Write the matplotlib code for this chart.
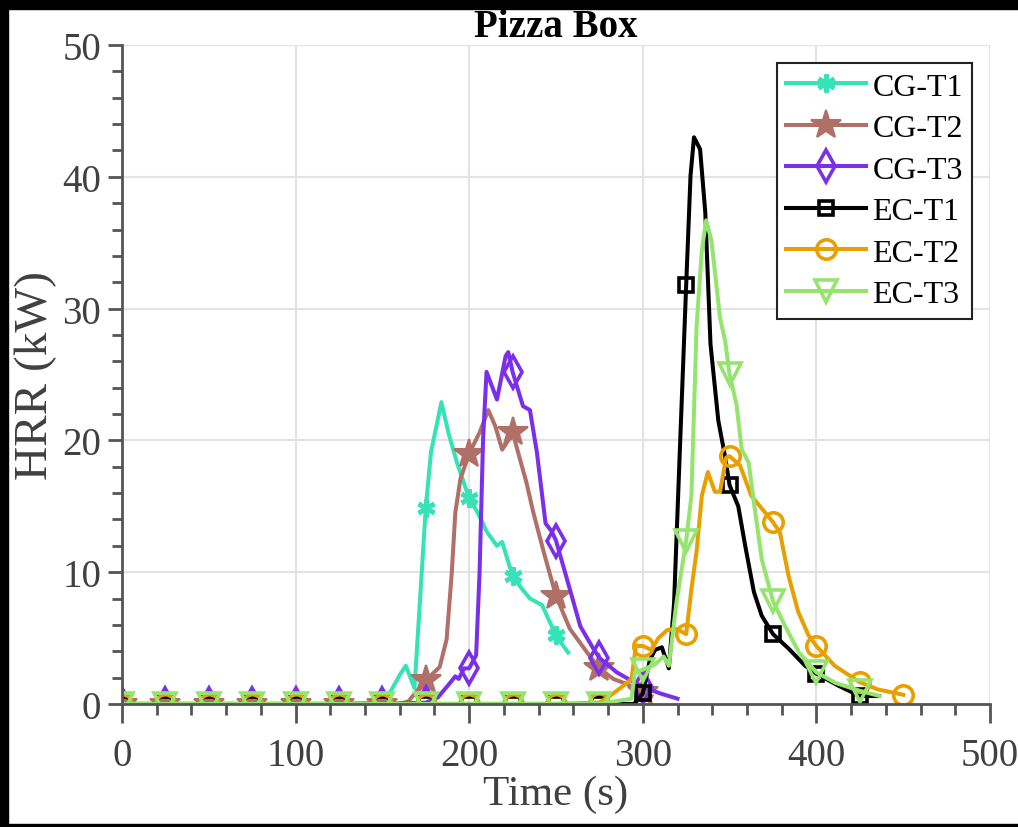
import matplotlib
matplotlib.use("Agg")
import matplotlib.pyplot as plt
from matplotlib.patches import Rectangle
from matplotlib.ticker import MultipleLocator

# HRR curves (time in s, HRR in kW)
cg_t1_time = [0, 25, 50, 75, 100, 125, 145, 150, 155, 160, 163.5, 168.5, 175, 178, 184, 188, 193,
              200, 205, 210, 216, 219, 225, 230, 235, 242, 250, 257]
cg_t1_hrr = [0, 0, 0, 0, 0, 0, 0.1, 0.4, 1.0, 2.2, 2.9, 1.2, 14.9, 19.1, 22.9, 20.6, 18.3,
             15.6, 14.5, 13.1, 12.0, 12.3, 9.7, 8.8, 8.0, 7.5, 5.2, 3.9]

cg_t2_time = [0, 25, 50, 75, 100, 125, 150, 160, 165, 170, 175, 183, 187, 190, 192, 195, 200,
              206, 211, 215, 219, 222, 225, 233, 237, 243, 250, 258, 268, 275, 283, 291, 300, 305]
cg_t2_hrr = [0, 0, 0, 0, 0, 0, 0, 0, 0.2, 1.0, 1.8, 2.8, 4.9, 10.0, 14.5, 17.1, 19.0,
             20.6, 22.3, 21.1, 19.3, 19.9, 20.6, 16.8, 14.5, 11.5, 8.2, 5.7, 3.9, 2.7, 1.9, 1.5, 0.9, 0.6]

cg_t3_time = [0, 25, 50, 75, 100, 125, 150, 175, 182, 189, 192, 194, 197, 200, 204, 206, 208, 210,
              216, 221, 222.5, 225, 231, 235, 239, 244, 247.5, 250, 258, 264, 271.5, 275, 285, 293,
              300, 310, 320]
cg_t3_hrr = [0, 0, 0, 0, 0, 0, 0, 0.1, 0.5, 1.6, 2.1, 1.9, 2.7, 2.7, 3.7, 10.0, 20.1, 25.2,
             23.1, 26.4, 26.7, 25.2, 22.6, 22.3, 19.1, 13.7, 13.1, 12.4, 8.7, 5.9, 4.2, 3.5, 2.4, 1.8,
             1.3, 0.8, 0.4]

ec_t1_time = [0, 25, 50, 75, 100, 125, 150, 175, 200, 225, 250, 275, 295, 300, 304, 307, 311, 315,
              318, 322, 325, 327.5, 329.5, 333, 336, 339, 343.5, 347.5, 350, 355, 359, 364, 368.5,
              375, 384, 393.5, 400, 412.5, 425, 436]
ec_t1_hrr = [0, 0, 0, 0, 0, 0, 0, 0, 0, 0, 0, 0, 0, 0.8, 3.3, 4.1, 4.3, 2.7,
             7.6, 21.5, 31.8, 40.1, 43.0, 42.1, 37.3, 27.3, 21.5, 18.7, 16.6, 15.0, 12.0, 8.5, 6.7,
             5.3, 4.2, 2.9, 2.3, 1.4, 0.6, 0.6]

ec_t2_time = [0, 25, 50, 75, 100, 125, 150, 175, 200, 225, 250, 275, 281, 288, 293.5, 296, 300,
              305, 309, 314, 319.5, 325, 328, 331, 334, 337.5, 341.5, 344.5, 348, 350, 356, 362.5,
              375, 379, 384, 389.5, 395.5, 400, 410.5, 425, 435.5, 450]
ec_t2_hrr = [0, 0, 0, 0, 0, 0, 0, 0, 0, 0, 0, 0.1, 0.6, 1.3, 1.9, 4.4, 4.4,
             4.1, 5.0, 5.6, 5.7, 5.3, 8.7, 11.6, 15.8, 17.6, 16.1, 16.1, 18.7, 18.8, 18.1, 15.8,
             13.8, 13.0, 9.7, 7.0, 5.2, 4.4, 2.9, 1.65, 1.1, 0.7]

ec_t3_time = [0, 25, 50, 75, 100, 125, 150, 175, 200, 225, 250, 275, 293.5, 295.5, 300, 307, 312,
              315, 319.5, 325, 328, 331, 334, 336.5, 339.5, 344.5, 347.5, 350, 354, 357, 361, 364,
              368.5, 375, 382, 390, 400, 411, 425, 436.5]
ec_t3_hrr = [0, 0, 0, 0, 0, 0, 0, 0, 0, 0, 0, 0, 0.4, 2.4, 2.6, 3.0, 3.6,
             2.9, 7.8, 12.4, 15.8, 28.7, 34.4, 36.7, 35.2, 29.3, 27.5, 25.0, 22.7, 19.3, 18.3, 15.3,
             11.0, 7.8, 5.9, 3.9, 2.4, 1.6, 1.0, 0.6]

plt.rcParams["font.family"] = ["Liberation Serif", "DejaVu Serif"]

series = [
    ("CG-T1", cg_t1_time, cg_t1_hrr, "#35E3B6", (6, 2, 0), 13, 3.2, True),
    ("CG-T2", cg_t2_time, cg_t2_hrr, "#B07068", "*", 22, 1.5, True),
    ("CG-T3", cg_t3_time, cg_t3_hrr, "#7A30EA", "d", 16, 2.6, False),
    ("EC-T1", ec_t1_time, ec_t1_hrr, "#000000", "s", 10, 2.6, False),
    ("EC-T2", ec_t2_time, ec_t2_hrr, "#E8A000", "o", 14, 2.6, False),
    ("EC-T3", ec_t3_time, ec_t3_hrr, "#95E46E", "v", 16, 2.6, False),
]

fig = plt.figure(figsize=(10.18, 8.28), dpi=100)
ax = fig.add_axes([0.1198, 0.1486, 0.8527, 0.7958])

for label, t, v, color, marker, ms, mew, filled in series:
    ax.plot(t, v, color=color, lw=2.9, label=label,
            marker=marker, markersize=ms, markeredgewidth=mew,
            markerfacecolor=color if filled else "none", markeredgecolor=color,
            markevery=[ti % 25 == 0 for ti in t])

ax.set_xlim(0, 500)
ax.set_ylim(0, 50)
ax.xaxis.set_major_locator(MultipleLocator(100))
ax.xaxis.set_minor_locator(MultipleLocator(20))
ax.yaxis.set_major_locator(MultipleLocator(10))
ax.yaxis.set_minor_locator(MultipleLocator(2))
ax.grid(True, which="major", color="#e3e3e3", lw=1.5)
ax.set_axisbelow(True)

for side in ["top", "right"]:
    ax.spines[side].set_visible(False)
for side in ["left", "bottom"]:
    ax.spines[side].set_color("#555555")
    ax.spines[side].set_linewidth(2)

ax.tick_params(axis="both", which="both", direction="out", color="#555555", width=2,
               labelcolor="#404040", labelsize=28)
ax.tick_params(axis="x", which="major", length=14, pad=10)
ax.tick_params(axis="x", which="minor", length=8)
ax.tick_params(axis="y", which="major", length=10, pad=5)
ax.tick_params(axis="y", which="minor", length=7)

ax.set_xlabel("Time (s)", fontsize=31, color="#404040", labelpad=0)
ax.set_ylabel("HRR (kW)", fontsize=34, color="#404040", labelpad=4)
ax.set_title("Pizza Box", fontsize=28, fontweight="bold", pad=2)

leg = ax.legend(loc="upper right", fontsize=23, frameon=True, fancybox=False,
                edgecolor="#222222", framealpha=1, handlelength=2.5, handletextpad=0.2,
                borderaxespad=0.55, labelspacing=0.38, borderpad=0.3)
leg.get_frame().set_linewidth(1.5)

# black bands at the screenshot edges (top, left, bottom)
for x0, y0, w, h in [(0, 0.988, 1, 0.012), (0, 0, 0.008, 1), (0, 0, 1, 0.004)]:
    fig.add_artist(Rectangle((x0, y0), w, h, transform=fig.transFigure, color="black", zorder=10))

fig.savefig("out.png", dpi=100)
